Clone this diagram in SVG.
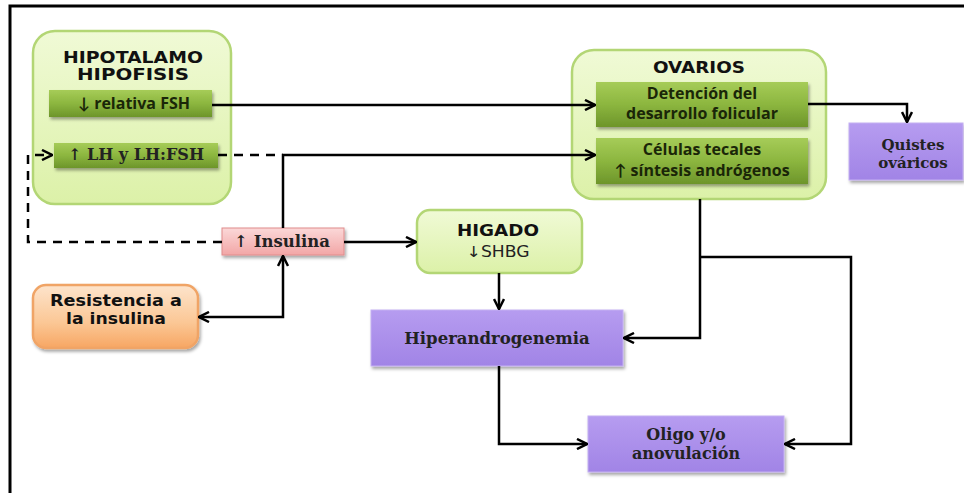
<svg xmlns="http://www.w3.org/2000/svg" width="964" height="493" viewBox="0 0 964 493">
<defs>
<linearGradient id="gLight" x1="0" y1="0" x2="0" y2="1"><stop offset="0" stop-color="#f0fad6"/><stop offset="1" stop-color="#dcf1a8"/></linearGradient>
<linearGradient id="gDark" x1="0" y1="0" x2="0" y2="1"><stop offset="0" stop-color="#a6cc58"/><stop offset="0.5" stop-color="#8cb63f"/><stop offset="1" stop-color="#6d952a"/></linearGradient>
<linearGradient id="gPink" x1="0" y1="0" x2="0" y2="1"><stop offset="0" stop-color="#fbd8d8"/><stop offset="1" stop-color="#f2a6a6"/></linearGradient>
<linearGradient id="gOrange" x1="0" y1="0" x2="0" y2="1"><stop offset="0" stop-color="#fde4cc"/><stop offset="0.6" stop-color="#fbc795"/><stop offset="1" stop-color="#f7a663"/></linearGradient>
<linearGradient id="gPurple" x1="0" y1="0" x2="0" y2="1"><stop offset="0" stop-color="#b69cf0"/><stop offset="1" stop-color="#a184e6"/></linearGradient>
<filter id="sh" x="-10%" y="-10%" width="130%" height="140%"><feDropShadow dx="1.5" dy="2.5" stdDeviation="1.5" flood-color="#000" flood-opacity="0.35"/></filter>
<marker id="ar" viewBox="0 0 10 10" refX="9" refY="5" markerWidth="5" markerHeight="5" orient="auto-start-reverse" markerUnits="strokeWidth"><path d="M1,1 L9,5 L1,9" fill="none" stroke="#000" stroke-width="2"/></marker>
<style>
.cont{fill:url(#gLight);stroke:#b3d675;stroke-width:2.5}
.dk{fill:url(#gDark);filter:url(#sh)}
.pur{fill:url(#gPurple);stroke:#c4b0f2;stroke-width:1;filter:url(#sh)}
.ttl{font-family:"DejaVu Sans",sans-serif;font-weight:bold;font-size:15px;fill:#111;text-anchor:middle}
.cal{font-family:"Open Sans",Lato,sans-serif;font-weight:bold;font-size:16px;fill:#1a2608;text-anchor:middle}
.ser{font-family:"DejaVu Serif",serif;font-weight:bold;fill:#222;text-anchor:middle}
.ln{fill:none;stroke:#000;stroke-width:2.5}
.dash{fill:none;stroke:#000;stroke-width:2.5;stroke-dasharray:9 7}
</style>
</defs>
<rect width="964" height="493" fill="#fff"/>
<g id="frame"><path d="M10,493 V6 H964" fill="none" stroke="#000" stroke-width="3"/></g>

<g id="hipotalamo">
<rect class="cont" x="33" y="31" width="198" height="173" rx="22"/>
<text class="ttl" x="133" y="63" textLength="140" lengthAdjust="spacingAndGlyphs">HIPOTALAMO</text>
<text class="ttl" x="133" y="80" textLength="112" lengthAdjust="spacingAndGlyphs">HIPOFISIS</text>
</g>
<g id="relativa-fsh">
<rect class="dk" x="49" y="90" width="163" height="27"/>
<text class="cal" x="134" y="109">↓  relativa FSH</text>
</g>
<g id="lh-fsh">
<rect class="dk" x="54" y="143" width="164" height="25"/>
<text class="ser" x="136" y="160" font-size="16">↑ LH y LH:FSH</text>
</g>

<g id="ovarios">
<rect class="cont" x="572" y="50" width="254" height="149" rx="22"/>
<text class="ttl" x="699" y="73" textLength="92" lengthAdjust="spacingAndGlyphs">OVARIOS</text>
</g>
<g id="detencion">
<rect class="dk" x="596" y="82" width="212" height="45"/>
<text class="cal" x="702" y="99" font-size="15.5">Detención del</text>
<text class="cal" x="702" y="119" font-size="15.5">desarrollo folicular</text>
</g>
<g id="celulas">
<rect class="dk" x="596" y="138" width="212" height="46"/>
<text class="cal" x="702" y="155" font-size="15.5">Células tecales</text>
<text class="cal" x="702" y="176" font-size="15.5">↑ síntesis andrógenos</text>
</g>

<g id="quistes">
<rect class="pur" x="849" y="123" width="114" height="57"/>
<text class="ser" x="913" y="150" font-size="15">Quistes</text>
<text class="ser" x="913" y="168" font-size="15">ováricos</text>
</g>

<g id="insulina">
<rect x="222" y="228" width="122" height="27" fill="url(#gPink)" stroke="#e08c8c" stroke-width="1" filter="url(#sh)"/>
<text class="ser" x="282" y="247" font-size="16.5">↑ Insulina</text>
</g>

<g id="higado">
<rect class="cont" x="417" y="210" width="165" height="63" rx="13"/>
<text class="ttl" x="498" y="236" textLength="82" lengthAdjust="spacingAndGlyphs">HIGADO</text>
<text x="498" y="257" font-family="'DejaVu Sans',sans-serif" font-size="15" fill="#222" text-anchor="middle" textLength="63" lengthAdjust="spacingAndGlyphs">↓SHBG</text>
</g>

<g id="resistencia">
<rect x="33" y="285" width="165" height="63" rx="13" fill="url(#gOrange)" stroke="#f0a466" stroke-width="2.5" filter="url(#sh)"/>
<text class="ttl" x="116" y="306" font-size="16" textLength="132" lengthAdjust="spacingAndGlyphs">Resistencia a</text>
<text class="ttl" x="116" y="324" font-size="16" textLength="100" lengthAdjust="spacingAndGlyphs">la insulina</text>
</g>

<g id="hiperandrogenemia">
<rect class="pur" x="371" y="310" width="252" height="56"/>
<text class="ser" x="497" y="344" font-size="16.5">Hiperandrogenemia</text>
</g>

<g id="oligo">
<rect class="pur" x="588" y="416" width="196" height="56"/>
<text class="ser" x="686" y="440" font-size="16">Oligo y/o</text>
<text class="ser" x="686" y="459" font-size="16">anovulación</text>
</g>

<g id="connectors">
<path class="ln" d="M212,105 H595" marker-end="url(#ar)"/>
<path class="dash" d="M218,155 H283"/>
<path class="ln" d="M283,228 V155 H595" marker-end="url(#ar)"/>
<path class="dash" d="M222,242 H28 V155 H52" marker-end="url(#ar)"/>
<path class="ln" d="M344,242 H416" marker-end="url(#ar)"/>
<path class="ln" d="M199,317 H283 V256" marker-start="url(#ar)" marker-end="url(#ar)"/>
<path class="ln" d="M808,104 H907 V122" marker-end="url(#ar)"/>
<path class="ln" d="M499,273 V309" marker-end="url(#ar)"/>
<path class="ln" d="M700,199 V338 H624" marker-end="url(#ar)"/>
<path class="ln" d="M700,257 H851 V444 H785" marker-end="url(#ar)"/>
<path class="ln" d="M499,366 V444 H587" marker-end="url(#ar)"/>
</g>
</svg>
